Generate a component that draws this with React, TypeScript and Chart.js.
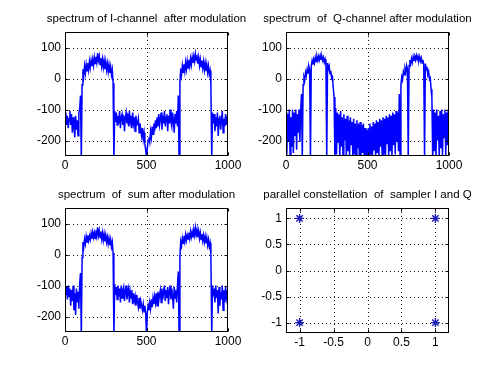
import React, { useEffect, useRef } from "react";
import { Chart, registerables } from "chart.js";

Chart.register(...registerables);

// ---------- data ----------
// spectra are sampled every 5 bins from 0 to 1000 (201 samples)
const SAMPLE_STEP = 5;

const iChannel: number[] = [
  -130, -110, -150, -120, -160, -130, -105, -150, -115, -175, -125, -155, -190, -120, -165, -135, -185, -110, -100, -55,
  -260,
  -20, 30, 10, 40, 18, 45, 25, 50, 28, 55, 35, 58, 40, 62, 42, 68, 48, 70, 52,
  82,
  58, 72, 45, 66, 40, 62, 36, 58, 30, 54, 28, 48, 22, 44, 18, 38, 12, 28, -15,
  -260,
  -105, -140, -110, -150, -120, -145, -105, -160, -125, -115, -150, -120, -170, -125, -110, -145, -115, -155, -105, -140,
  -120, -160, -110, -145, -125, -170, -120, -150, -145, -130, -175, -145, -165, -185, -160, -195, -175, -210, -230,
  -260,
  -225, -200, -190, -205, -170, -190, -155, -180, -145, -170, -135, -160, -125, -155, -115, -150, -130, -110, -165, -120,
  -145, -105, -155, -125, -115, -170, -120, -145, -100, -140, -155, -110, -135, -175, -115, -145, -105, -155, -55,
  -260,
  -15, 32, 12, 42, 20, 46, 24, 52, 30, 56, 34, 60, 40, 64, 44, 68, 50, 72, 55,
  80,
  62, 70, 48, 68, 42, 62, 38, 58, 34, 55, 28, 50, 24, 45, 20, 40, 14, 26, -20,
  -260,
  -110, -145, -115, -170, -125, -155, -110, -185, -130, -120, -165, -135, -105, -175, -130, -155, -115, -150, -125, -120,
];

const qChannel: number[] = [
  -110, -245, -115, -205, -100, -250, -125, -220, -100, -240, -110, -185, -100, -230, -115, -175, -100, -205, -105, -50,
  -260,
  -20, 5, -5, 20, 10, 30, 18, 40, 30,
  -260,
  40, 58, 45, 62, 50, 68, 55, 70, 58, 72, 60, 74, 62, 70, 58, 68, 52, 62, 45,
  -260,
  50, 30, 40, 15, 25, 0, 5, -30, -60,
  -260,
  -95, -245, -110, -205, -115, -255, -105, -220, -125, -255, -115, -200, -130, -250, -120, -235, -135, -255, -125, -215,
  -140, -255, -130, -245, -145, -255, -135, -225, -145, -255, -140, -255, -150, -240, -145, -255, -160, -250, -165,
  -255,
  -160, -255, -145, -245, -155, -255, -140, -230, -145, -255, -135, -240, -140, -255, -130, -220, -135, -255, -125, -245,
  -130, -255, -120, -210, -125, -250, -115, -235, -120, -255, -110, -215, -115, -245, -105, -205, -110, -235, -50,
  -260,
  -20, 5, -5, 22, 12, 32, 20, 42, 32,
  -260,
  42, 60, 46, 64, 52, 70, 56, 72, 60, 74, 62, 72, 58, 70, 56, 66, 50, 60, 44,
  -260,
  48, 28, 38, 12, 22, -2, 2, -35, -60,
  -260,
  -100, -235, -110, -255, -100, -200, -120, -255, -105, -225, -100, -255, -115, -190, -100, -250, -110, -215, -100, -245,
];

const sumChannel: number[] = [
  -105, -130, -105, -145, -100, -135, -110, -165, -115, -150, -100, -180, -125, -195, -110, -155, -120, -175, -95, -60,
  -260,
  -10, 40, 25, 50, 35, 58, 40, 62, 45, 60, 48, 68, 50, 72, 55, 70, 52, 78, 60,
  88,
  62, 78, 55, 74, 50, 70, 46, 66, 42, 62, 40, 56, 34, 52, 30, 48, 25, 40, 5,
  -260,
  -95, -130, -105, -145, -100, -135, -110, -155, -100, -140, -115, -105, -150, -120, -100, -145, -125, -110, -155, -120,
  -140, -115, -160, -125, -150, -135, -165, -130, -155, -170, -140, -175, -150, -165, -180, -160, -185, -165, -190,
  -260,
  -185, -165, -180, -155, -175, -145, -170, -140, -160, -135, -155, -125, -165, -120, -150, -130, -115, -155, -110, -145,
  -120, -100, -150, -115, -140, -105, -160, -120, -100, -145, -110, -135, -175, -105, -140, -115, -155, -100, -55,
  -260,
  -5, 42, 28, 52, 36, 60, 42, 64, 46, 62, 50, 70, 52, 74, 56, 72, 54, 80, 62,
  86,
  64, 80, 56, 75, 52, 70, 48, 66, 44, 62, 40, 58, 36, 54, 30, 48, 26, 38, 0,
  -260,
  -100, -135, -110, -155, -100, -140, -115, -190, -105, -165, -120, -145, -100, -180, -115, -155, -105, -140, -120, -110,
];

const constellationI: number[] = [-1, -1, 1, 1];
const constellationQ: number[] = [1, -1, 1, -1];

const specXTicks: number[] = [0, 500, 1000];
const specYTicks: number[] = [-200, -100, 0, 100];
const constTicks: number[] = [-1, -0.5, 0, 0.5, 1];

const titles: string[] = [
  "spectrum of I-channel  after modulation",
  "spectrum  of  Q-channel after modulation",
  "spectrum  of  sum after modulation",
  "parallel constellation  of  sampler I and Q",
];

// ---------- layout / style ----------
const W = 500;
const H = 374;
const Y_AXIS_W = 50;
const X_AXIS_H = 24;
const FONT = '"Liberation Sans", Arial, Helvetica, sans-serif';
const LINE_BLUE = "#0000ff";

type Box = { l: number; t: number; r: number; b: number };
const boxes: Box[] = [
  { l: 65, t: 32, r: 228, b: 156 },
  { l: 286, t: 32, r: 449, b: 156 },
  { l: 65, t: 208, r: 228, b: 332 },
  { l: 286, t: 208, r: 449, b: 333 },
];

const framePlugin = {
  id: "frame",
  beforeDatasetsDraw(chart: any, _args: any, opts: any) {
    const { ctx, chartArea: a, scales } = chart;
    const x = scales.x;
    const y = scales.y;
    ctx.save();
    ctx.strokeStyle = "#1a1a1a";
    ctx.lineWidth = 1;
    ctx.setLineDash([1, 3]);
    for (const v of opts.xTicks) {
      const px = Math.round(x.getPixelForValue(v)) + 0.5;
      if (px <= a.left + 1 || px >= a.right - 1) continue;
      ctx.beginPath();
      ctx.moveTo(px, a.top);
      ctx.lineTo(px, a.bottom);
      ctx.stroke();
    }
    for (const v of opts.yTicks) {
      const py = Math.round(y.getPixelForValue(v)) + 0.5;
      if (py <= a.top + 1 || py >= a.bottom - 1) continue;
      ctx.beginPath();
      ctx.moveTo(a.left, py);
      ctx.lineTo(a.right, py);
      ctx.stroke();
    }
    ctx.restore();
  },
  afterDraw(chart: any, _args: any, opts: any) {
    const { ctx, chartArea: a, scales } = chart;
    const x = scales.x;
    const y = scales.y;
    ctx.save();
    ctx.setLineDash([]);
    ctx.strokeStyle = "#000";
    ctx.lineWidth = 1;
    const L = Math.round(a.left) + 0.5;
    const R = Math.round(a.right) - 0.5;
    const T = Math.round(a.top) + 0.5;
    const B = Math.round(a.bottom) - 0.5;
    ctx.strokeRect(L, T, R - L, B - T);
    const tl = 3;
    ctx.beginPath();
    for (const v of opts.xTicks) {
      const px = Math.round(x.getPixelForValue(v)) + 0.5;
      ctx.moveTo(px, B);
      ctx.lineTo(px, B - tl);
      ctx.moveTo(px, T);
      ctx.lineTo(px, T + tl);
    }
    for (const v of opts.yTicks) {
      const py = Math.round(y.getPixelForValue(v)) + 0.5;
      ctx.moveTo(L, py);
      ctx.lineTo(L + tl, py);
      ctx.moveTo(R, py);
      ctx.lineTo(R - tl, py);
    }
    ctx.stroke();
    ctx.fillStyle = "#000";
    ctx.font = `11.5px ${FONT}`;
    ctx.textAlign = "center";
    ctx.textBaseline = "alphabetic";
    ctx.fillText(opts.title, (a.left + a.right) / 2, a.top - 10);
    ctx.restore();
  },
};

function makeScale(min: number, max: number, ticks: number[], axis: "x" | "y") {
  return {
    type: "linear" as const,
    min,
    max,
    grid: { display: false, drawTicks: false, tickLength: 0 },
    border: { display: false },
    afterBuildTicks: (s: any) => {
      s.ticks = ticks.map((v) => ({ value: v }));
    },
    afterFit: (s: any) => {
      if (axis === "x") s.height = X_AXIS_H;
      else s.width = Y_AXIS_W;
    },
    ticks: {
      autoSkip: false,
      maxRotation: 0,
      minRotation: 0,
      padding: axis === "x" ? 2 : 4,
      color: "#000",
      font: { family: FONT, size: 12 },
      callback: (v: any) => String(v),
    },
  };
}

function baseOptions(box: Box) {
  return {
    animation: false as const,
    responsive: false,
    maintainAspectRatio: false,
    devicePixelRatio: 1,
    events: [],
    layout: {
      padding: {
        left: box.l - Y_AXIS_W,
        top: box.t,
        right: W - box.r,
        bottom: H - box.b - X_AXIS_H,
      },
    },
  };
}

function spectrumConfig(values: number[], idx: number) {
  const box = boxes[idx];
  return {
    type: "line" as const,
    data: {
      datasets: [
        {
          data: values.map((v, i) => ({ x: i * SAMPLE_STEP, y: v })),
          borderColor: LINE_BLUE,
          borderWidth: 1.5,
          pointRadius: 0,
          tension: 0,
          fill: false,
          clip: 0,
        },
      ],
    },
    options: {
      ...baseOptions(box),
      scales: {
        x: makeScale(0, 1000, specXTicks, "x"),
        y: makeScale(-250, 150, specYTicks, "y"),
      },
      plugins: {
        legend: { display: false },
        tooltip: { enabled: false },
        frame: { xTicks: specXTicks, yTicks: specYTicks, title: titles[idx] },
      },
    },
    plugins: [framePlugin],
  };
}

function constellationConfig() {
  const box = boxes[3];
  return {
    type: "scatter" as const,
    data: {
      datasets: [
        {
          data: constellationI.map((v, i) => ({ x: v, y: constellationQ[i] })),
          pointStyle: "star",
          pointRadius: 4.5,
          borderColor: "#1c1cb4",
          backgroundColor: "#1c1cb4",
          borderWidth: 1.4,
          showLine: false,
          clip: false,
        },
      ],
    },
    options: {
      ...baseOptions(box),
      scales: {
        x: makeScale(-1.2, 1.2, constTicks, "x"),
        y: makeScale(-1.2, 1.2, constTicks, "y"),
      },
      plugins: {
        legend: { display: false },
        tooltip: { enabled: false },
        frame: { xTicks: constTicks, yTicks: constTicks, title: titles[3] },
      },
    },
    plugins: [framePlugin],
  };
}

export default function App() {
  const c0 = useRef<HTMLCanvasElement>(null);
  const c1 = useRef<HTMLCanvasElement>(null);
  const c2 = useRef<HTMLCanvasElement>(null);
  const c3 = useRef<HTMLCanvasElement>(null);

  useEffect(() => {
    const charts: Chart[] = [];
    if (c0.current) charts.push(new Chart(c0.current, spectrumConfig(iChannel, 0) as any));
    if (c1.current) charts.push(new Chart(c1.current, spectrumConfig(qChannel, 1) as any));
    if (c2.current) charts.push(new Chart(c2.current, spectrumConfig(sumChannel, 2) as any));
    if (c3.current) charts.push(new Chart(c3.current, constellationConfig() as any));
    return () => charts.forEach((c) => c.destroy());
  }, []);

  const cs: React.CSSProperties = { position: "absolute", left: 0, top: 0, width: W, height: H };
  return (
    <div style={{ position: "fixed", left: 0, top: 0, width: W, height: H, background: "#fff", overflow: "hidden" }}>
      <canvas ref={c0} width={W} height={H} style={cs} />
      <canvas ref={c1} width={W} height={H} style={cs} />
      <canvas ref={c2} width={W} height={H} style={cs} />
      <canvas ref={c3} width={W} height={H} style={cs} />
    </div>
  );
}
